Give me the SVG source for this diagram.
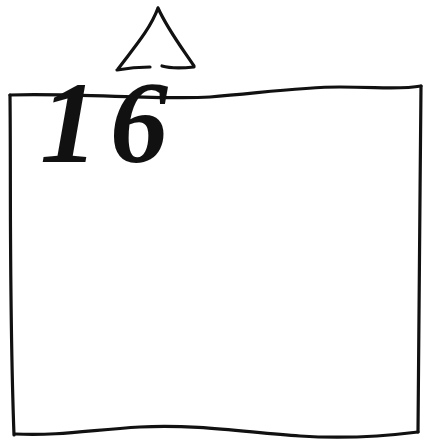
<svg xmlns="http://www.w3.org/2000/svg" width="423" height="444" viewBox="0 0 423 444">
<style>
.ink{fill:none;stroke:#111;stroke-width:3.2;stroke-linecap:round;stroke-linejoin:round}
.lbl{font-family:"Liberation Serif","DejaVu Serif",serif;font-style:italic;font-weight:bold;fill:#111}
</style>
<rect width="423" height="444" fill="#fff"/>
<g id="triangle">
<path class="ink" d="M158 8 C150 30 132 50 118 69 M158 8 C168 30 182 48 194 66 M117 70 C128 68 140 67 150 67 M162 66 C172 69 184 68 194 67"/>
</g>
<g id="box">
<path class="ink" d="M10 95 C80 93 160 100 210 97 C260 93 300 87 340 87 C380 87 400 90 421 86"/>
<path class="ink" d="M421 86 C420 200 419 300 418 432"/>
<path class="ink" d="M418 432 C370 438 330 438 300 436 C250 433 200 424 140 427 C90 430 60 436 15 434"/>
<path class="ink" d="M10 95 C11 180 9 300 14 435"/>
<text class="lbl" x="40" y="162" font-size="116" letter-spacing="12">16</text>
</g>
</svg>
